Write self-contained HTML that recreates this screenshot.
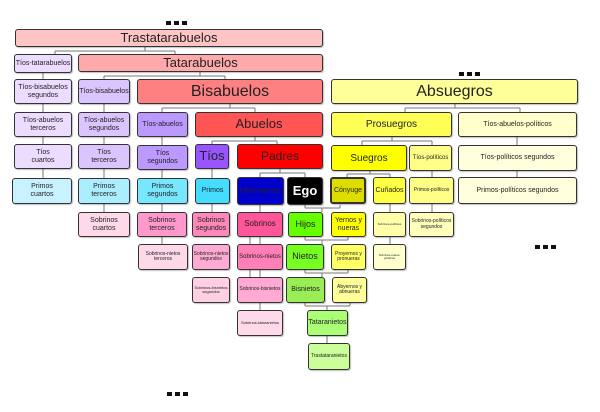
<!DOCTYPE html>
<html><head><meta charset="utf-8"><style>
body{margin:0;width:600px;height:412px;background:#fff;position:relative;overflow:hidden;font-family:"Liberation Sans",sans-serif}
.b{position:absolute;box-sizing:border-box;border:1.5px solid #333;border-radius:3px;display:flex;align-items:center;justify-content:center;text-align:center;line-height:1.1;color:#222;box-shadow:1px 1px 1px rgba(0,0,0,.25)}
.d{position:absolute;width:5px;height:4px;background:#111;}
svg{position:absolute;left:0;top:0}
</style></head><body>
<svg width="600" height="412" stroke="#777" stroke-width="1" fill="none">
<!-- left columns -->
<path d="M43 73V178 M104 104V212 M162 137V244 M212 169V178 M212 204V212 M260 204V310 M250 237V277 M162 237V244 M104 204V212"/>
<!-- brackets -->
<path d="M145 47V51 M55 51H175 M55 51V54 M175 51V54"/>
<path d="M200 72V76 M104 76H225 M104 76V79 M225 76V79"/>
<path d="M230 104V108 M162 108H255 M162 108V112 M255 108V112"/>
<path d="M255 137V141 M212 141H277 M212 141V144 M277 141V144"/>
<path d="M280 169V173 M260 173H305 M260 173V177 M305 173V177"/>
<!-- green / yellow chain -->
<path d="M305 205V208 M340 205V208 M305 208H340 M322 208V212"/>
<path d="M305 237V240 M348 237V240 M305 240H348 M322 240V244"/>
<path d="M305 270V273 M348 270V273 M305 273H348 M322 273V277"/>
<path d="M305 303V306 M350 303V306 M305 306H350 M327 306V310 M327 336V343"/>
<!-- right side -->
<path d="M455 104V108 M405 108H520 M405 108V112 M520 108V112 M517 137V145 M517 171V177"/>
<path d="M392 137V141 M362 141H432 M362 141V145 M432 141V145 M432 171V177 M432 204V212"/>
<path d="M370 171V174 M347 174H390 M347 174V177 M390 174V177 M390 204V244"/>
</svg>
<div class="d" style="left:166px;top:21px"></div><div class="d" style="left:174px;top:21px"></div><div class="d" style="left:182px;top:21px"></div>
<div class="d" style="left:459px;top:72px"></div><div class="d" style="left:467px;top:72px"></div><div class="d" style="left:475px;top:72px"></div>
<div class="d" style="left:535px;top:245px"></div><div class="d" style="left:543px;top:245px"></div><div class="d" style="left:551px;top:245px"></div>
<div class="d" style="left:167px;top:392px"></div><div class="d" style="left:175px;top:392px"></div><div class="d" style="left:183px;top:392px"></div>

<div class="b" style="left:15px;top:29px;width:308px;height:18px;background:#ffc4c4;font-size:13px">Trastatarabuelos</div>
<div class="b" style="left:14px;top:54px;width:58px;height:19px;background:#ecdcff;font-size:7px">Tíos-tatarabuelos</div>
<div class="b" style="left:78px;top:54px;width:245px;height:18px;background:#ffaaaa;font-size:13px">Tatarabuelos</div>

<div class="b" style="left:14px;top:79px;width:58px;height:25px;background:#ecdcff;font-size:7px">Tíos-bisabuelos segundos</div>
<div class="b" style="left:78px;top:79px;width:52px;height:25px;background:#dcc4ff;font-size:7px">Tíos-bisabuelos</div>
<div class="b" style="left:137px;top:79px;width:186px;height:25px;background:#ff8080;font-size:16px">Bisabuelos</div>

<div class="b" style="left:14px;top:112px;width:58px;height:25px;background:#ecdcff;font-size:7px">Tíos-abuelos terceros</div>
<div class="b" style="left:78px;top:112px;width:52px;height:25px;background:#dcc4ff;font-size:7px">Tíos-abuelos segundos</div>
<div class="b" style="left:137px;top:112px;width:51px;height:25px;background:#bb99ff;font-size:7px">Tíos-abuelos</div>
<div class="b" style="left:195px;top:112px;width:128px;height:25px;background:#ff5555;font-size:13px">Abuelos</div>

<div class="b" style="left:14px;top:144px;width:58px;height:25px;background:#ecdcff;font-size:7px">Tíos<br>cuartos</div>
<div class="b" style="left:78px;top:144px;width:52px;height:25px;background:#dcc4ff;font-size:7px">Tíos<br>terceros</div>
<div class="b" style="left:137px;top:145px;width:51px;height:25px;background:#bb99ff;font-size:7px">Tíos<br>segundos</div>
<div class="b" style="left:195px;top:144px;width:34px;height:25px;background:#9955ff;font-size:13px">Tíos</div>
<div class="b" style="left:237px;top:144px;width:86px;height:25px;background:#ff0000;font-size:12px">Padres</div>

<div class="b" style="left:12px;top:178px;width:60px;height:26px;background:#c8f2ff;font-size:7px">Primos<br>cuartos</div>
<div class="b" style="left:78px;top:178px;width:52px;height:26px;background:#aaeeff;font-size:7px">Primos<br>terceros</div>
<div class="b" style="left:137px;top:178px;width:51px;height:26px;background:#77e6ff;font-size:7px">Primos<br>segundos</div>
<div class="b" style="left:195px;top:178px;width:35px;height:26px;background:#44ddff;font-size:7px">Primos</div>
<div class="b" style="left:237px;top:177px;width:47px;height:28px;background:#0000cc;font-size:9px">Hermanos</div>
<div class="b" style="left:287px;top:177px;width:36px;height:28px;background:#000;color:#fff;font-weight:bold;font-size:13px">Ego</div>
<div class="b" style="left:330px;top:177px;width:36px;height:27px;background:#dddd00;border-width:2px;font-size:7px">Cónyuge</div>
<div class="b" style="left:373px;top:177px;width:33px;height:27px;background:#ffff44;font-size:7px">Cuñados</div>
<div class="b" style="left:409px;top:177px;width:45px;height:27px;background:#ffff88;font-size:5px">Primos-políticos</div>
<div class="b" style="left:458px;top:177px;width:119px;height:27px;background:#ffffdd;font-size:7px">Primos-políticos segundos</div>

<div class="b" style="left:78px;top:212px;width:52px;height:25px;background:#ffd8ea;font-size:7px">Sobrinos<br>cuartos</div>
<div class="b" style="left:137px;top:212px;width:50px;height:25px;background:#ff99cc;font-size:7px">Sobrinos<br>terceros</div>
<div class="b" style="left:192px;top:212px;width:38px;height:25px;background:#ff88bb;font-size:7px">Sobrinos<br>segundos</div>
<div class="b" style="left:237px;top:212px;width:46px;height:25px;background:#ff5599;font-size:8px">Sobrinos</div>
<div class="b" style="left:288px;top:212px;width:35px;height:25px;background:#66ff00;font-size:9px">Hijos</div>
<div class="b" style="left:331px;top:212px;width:35px;height:25px;background:#ffff00;font-size:7px">Yernos y<br>nueras</div>
<div class="b" style="left:373px;top:212px;width:33px;height:25px;background:#ffffaa;font-size:3px">Sobrinos-políticos</div>
<div class="b" style="left:409px;top:212px;width:45px;height:25px;background:#ffffbb;font-size:5px">Sobrinos-políticos segundos</div>

<div class="b" style="left:138px;top:244px;width:50px;height:26px;background:#ffd8ea;font-size:5px">Sobrinos-nietos terceros</div>
<div class="b" style="left:192px;top:244px;width:38px;height:26px;background:#ffaad2;font-size:5px">Sobrinos-nietos segundos</div>
<div class="b" style="left:237px;top:244px;width:46px;height:26px;background:#ff7fb6;font-size:6px">Sobrinos-nietos</div>
<div class="b" style="left:286px;top:244px;width:38px;height:26px;background:#77ff22;font-size:9px">Nietos</div>
<div class="b" style="left:331px;top:244px;width:35px;height:26px;background:#ffff66;font-size:5px">Proyernos y pronueras</div>
<div class="b" style="left:373px;top:244px;width:33px;height:26px;background:#ffffcc;font-size:3px">Sobrinos-nietos-políticos</div>

<div class="b" style="left:192px;top:277px;width:38px;height:26px;background:#ffd0e4;font-size:4px">Sobrinos-bisnietos segundos</div>
<div class="b" style="left:237px;top:277px;width:46px;height:26px;background:#ffaad2;font-size:5px">Sobrinos-bisnietos</div>
<div class="b" style="left:286px;top:277px;width:39px;height:26px;background:#99ee55;font-size:7px">Bisnietos</div>
<div class="b" style="left:332px;top:277px;width:35px;height:26px;background:#ffff99;font-size:5px">Abyernos y abnueras</div>

<div class="b" style="left:237px;top:310px;width:46px;height:26px;background:#ffd8ea;font-size:4px">Sobrinos-tataranietos</div>
<div class="b" style="left:307px;top:310px;width:41px;height:26px;background:#aaff77;font-size:7px">Tataranietos</div>
<div class="b" style="left:308px;top:343px;width:42px;height:27px;background:#ccff99;font-size:5px">Trastataranietos</div>

<div class="b" style="left:331px;top:79px;width:247px;height:25px;background:#ffff99;font-size:16px">Absuegros</div>
<div class="b" style="left:331px;top:112px;width:121px;height:25px;background:#ffff55;font-size:10px">Prosuegros</div>
<div class="b" style="left:458px;top:112px;width:119px;height:25px;background:#ffffcc;font-size:7px">Tíos-abuelos-políticos</div>
<div class="b" style="left:331px;top:145px;width:76px;height:26px;background:#ffff00;font-size:10px">Suegros</div>
<div class="b" style="left:409px;top:145px;width:43px;height:26px;background:#ffff88;font-size:6px">Tíos-políticos</div>
<div class="b" style="left:458px;top:145px;width:119px;height:26px;background:#ffffdd;font-size:7px">Tíos-políticos segundos</div>
</body></html>
